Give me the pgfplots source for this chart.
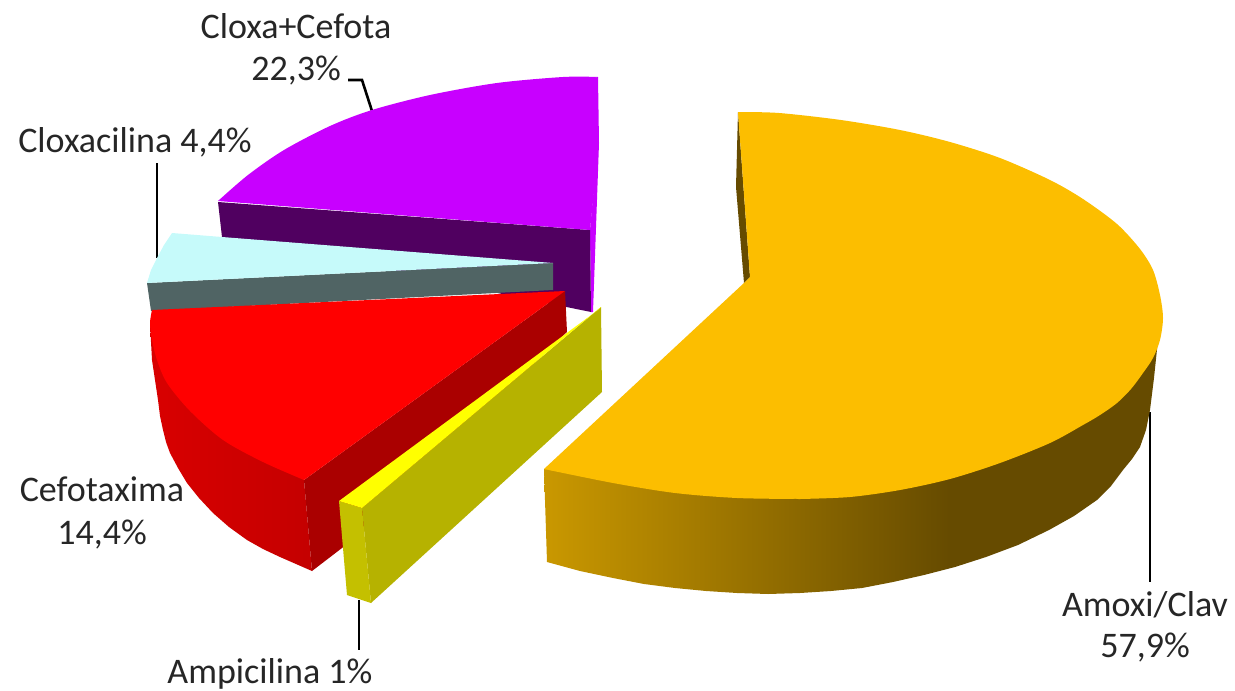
\documentclass[border=0pt]{standalone}
\usepackage{fontspec}
\setmainfont{Carlito}
\usepackage{pgfplots}
\pgfplotsset{compat=1.18}
\definecolor{amoxi}{RGB}{252,190,0}
\definecolor{amoxidark}{RGB}{102,75,0}
\definecolor{purp}{RGB}{200,0,255}
\definecolor{purpdark}{RGB}{80,0,96}
\definecolor{cyanlt}{RGB}{198,250,250}
\definecolor{greyface}{RGB}{80,100,100}
\definecolor{redtop}{RGB}{255,0,0}
\definecolor{reddark}{RGB}{170,0,0}
\definecolor{yel}{RGB}{255,255,0}
\definecolor{olive}{RGB}{182,178,0}
\definecolor{yelfront}{RGB}{196,192,0}
\definecolor{txt}{RGB}{38,38,38}
% side faces go lighter to darker from left to right
\pgfdeclarehorizontalshading{amoxiside}{100bp}{color(0bp)=(amoxi!80!black); color(25bp)=(amoxi!80!black); color(58bp)=(amoxidark); color(100bp)=(amoxidark)}
\pgfdeclarehorizontalshading{redside}{100bp}{color(0bp)=(red!85!black); color(25bp)=(red!85!black); color(75bp)=(red!77!black); color(100bp)=(red!77!black)}
\tikzset{lab/.style={text=txt, font=\fontsize{36}{42}\selectfont, inner sep=0pt, anchor=base}}
\begin{document}
\begin{tikzpicture}
\begin{axis}[
    width=1235pt, height=691pt, scale only axis,
    xmin=0, xmax=1235, ymin=0, ymax=691, y dir=reverse,
    hide axis, no markers, clip=false,
]
% leader lines
\addplot[black, line width=2.6pt] coordinates {(348,80) (362,80) (372,111)};
\addplot[black, line width=2.6pt] coordinates {(157,163) (157,258)};
\addplot[black, line width=2.6pt] coordinates {(1150,412) (1150,582)};
\addplot[black, line width=2.6pt] coordinates {(359,600) (359,650)};

% each rim is a smooth arc, the polygon under it overlaps the arc so no seam shows
% Cloxa+Cefota
\addplot[fill=purp, draw=none] coordinates {(590,230) (598,143) (599,143) (593,312) (591,312)} -- cycle;
\addplot[fill=purpdark, draw=none] coordinates {(218,202) (590,230) (591,312) (222,237)} -- cycle;
\addplot[fill=purp, draw=none, smooth] coordinates {(598,77) (563,77) (497,83) (430,95) (372,110) (330,126) (284,150) (248,175) (218,201)};
\addplot[fill=purp, draw=none] coordinates {(598,77) (430,110) (218,201) (590,230) (599,143)} -- cycle;

% Cloxacilina
\addplot[fill=greyface, draw=none] coordinates {(147,283) (553,263) (553,290) (151,311)} -- cycle;
\addplot[fill=cyanlt, draw=none] coordinates {(172,233) (222,237) (553,263) (147,283) (151,270) (157,258) (164,245)} -- cycle;

% Cefotaxima
\addplot[shade, shading=redside, draw=none] coordinates {(150,323) (151,342) (152,360) (155,380) (158,400) (160,416) (163,430) (166,442) (170,453) (178,468) (187,483) (199,498) (213,513) (229,527) (247,540) (263,549) (280,557) (296,564) (312,571) (304,480)} -- cycle;
\addplot[fill=reddark, draw=none] coordinates {(304,480) (565,291) (567,332) (342,548) (312,571)} -- cycle;
\addplot[fill=redtop, draw=none, smooth] coordinates {(152,310) (150,323) (152,340) (157,360) (167,383) (190,411) (223,440) (263,462) (304,480)};
\addplot[fill=redtop, draw=none] coordinates {(152,310) (565,291) (304,480) (215,415)} -- cycle;

% Ampicilina
\addplot[fill=olive, draw=none] coordinates {(362,508) (601,307) (602,392) (371,603)} -- cycle;
\addplot[fill=yelfront, draw=none] coordinates {(339,501) (362,508) (371,603) (347,595)} -- cycle;
\addplot[fill=yel, draw=none] coordinates {(339,501) (362,508) (601,307) (598,310)} -- cycle;

% Amoxi/Clav
\addplot[fill=amoxidark, draw=none] coordinates {(738,112) (736,187) (744,283) (750,277)} -- cycle;
\addplot[shade, shading=amoxiside, draw=none] coordinates {(1158,340) (1154,378) (1150,410) (1146,430) (1140,447) (1132,459) (1123,470) (1111,486) (1097,500) (1074,516) (1049,530) (1018,545) (986,557) (955,567) (924,575) (893,582) (862,588) (831,591) (800,593) (768,594) (737,593) (706,591) (675,588) (644,584) (613,578) (580,571) (547,562) (544,469) (800,440)} -- cycle;
\addplot[fill=amoxi, draw=none, smooth] coordinates {(738,112) (779,113) (841,120) (900,130) (950,142) (1000,158) (1050,180) (1083,199) (1117,224) (1140,249) (1153,270) (1160,295) (1163,318) (1160,340) (1153,358) (1143,373) (1131,389) (1117,403) (1100,415) (1083,425) (1050,443) (1000,463) (950,479) (900,490) (850,497) (800,499)};
\addplot[fill=amoxi, draw=none, smooth] coordinates {(800,499) (737,498) (675,493) (613,483) (544,469)};
\addplot[fill=amoxi, draw=none] coordinates {(738,112) (900,300) (800,499) (670,490) (544,469) (744,283) (750,277)} -- cycle;

% labels
\node[lab] at (axis cs:296,38) {Cloxa+Cefota};
\node[lab] at (axis cs:296,80) {22,3\%};
\node[lab] at (axis cs:135,152) {Cloxacilina 4,4\%};
\node[lab] at (axis cs:102,501) {Cefotaxima};
\node[lab] at (axis cs:102,544) {14,4\%};
\node[lab] at (axis cs:1145,616) {Amoxi/Clav};
\node[lab] at (axis cs:1145,657) {57,9\%};
\node[lab] at (axis cs:270,683) {Ampicilina 1\%};
\end{axis}
\path (current axis.south west) rectangle (current axis.north east);
\end{tikzpicture}
\end{document}
